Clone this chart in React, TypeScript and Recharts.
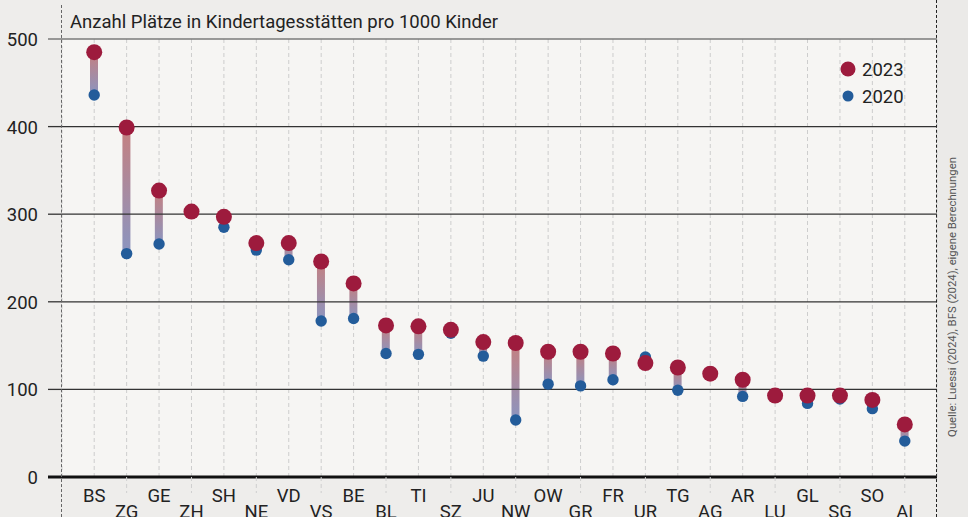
import {
  ComposedChart,
  Bar,
  Line,
  XAxis,
  YAxis,
  CartesianGrid,
  ReferenceLine,
} from "recharts";

const cantons = [
  "BS", "ZG", "GE", "ZH", "SH", "NE", "VD", "VS", "BE", "BL", "TI", "SZ", "JU",
  "NW", "OW", "GR", "FR", "UR", "TG", "AG", "AR", "LU", "GL", "SG", "SO", "AI",
];
const places2023 = [
  485, 399, 327, 303, 297, 267, 267, 246, 221, 173, 172, 168, 154,
  153, 143, 143, 141, 130, 125, 118, 111, 93, 93, 93, 88, 60,
];
const places2020 = [
  436, 255, 266, 302, 285, 259, 248, 178, 181, 141, 140, 164, 138,
  65, 106, 104, 111, 137, 99, 117, 92, 92, 84, 89, 78, 41,
];
const yTicks = [0, 100, 200, 300, 400, 500];

const data = cantons.map((name, i) => ({
  name,
  y2023: places2023[i],
  y2020: places2020[i],
}));

const FONT = "Roboto, 'DejaVu Sans', sans-serif";
const RED = "#9d1b3d";
const BLUE = "#235c9a";
const TEXT = "#222";
const FS = 18.5;

const gridColor = (v: number) => (v === 0 ? "#111" : v === 500 ? "#7a7a7a" : "#333");

const YTick = (props: any) => {
  const { y, payload } = props;
  const v = payload.value;
  return (
    <g>
      <line
        x1={48}
        x2={62}
        y1={y}
        y2={y}
        stroke={gridColor(v)}
        strokeWidth={v === 0 ? 3 : v === 500 ? 1.5 : 1.3}
      />
      <text x={38} y={y + 7} textAnchor="end" fontFamily={FONT} fontSize={FS} fill={TEXT}>
        {v}
      </text>
    </g>
  );
};

const XTick = (props: any) => {
  const { x, y, payload, index } = props;
  const odd = index % 2 === 1;
  return (
    <g>
      {odd && (
        <line x1={x} x2={x} y1={y - 8} y2={y + 8} stroke="#cfcfcf" strokeDasharray="4 3" />
      )}
      <text
        x={x}
        y={y + 17 + (odd ? 16 : 0)}
        textAnchor="middle"
        fontFamily={FONT}
        fontSize={FS}
        fill={TEXT}
      >
        {payload.value}
      </text>
    </g>
  );
};

export default function App() {
  return (
    <div
      style={{
        position: "absolute",
        left: 0,
        top: 0,
        width: 968,
        height: 517,
        background: "#eeedeb",
        overflow: "hidden",
      }}
    >
      <div
        style={{
          position: "absolute",
          left: 937,
          top: 0,
          width: 31,
          height: 517,
          background: "#ebeae8",
        }}
      />
      <div style={{ position: "absolute", left: 0, top: 0 }}>
        <ComposedChart
          width={968}
          height={517}
          data={data}
          margin={{ top: 39, right: 31, bottom: 0, left: 0 }}
        >
          <defs>
            <linearGradient id="conn" x1="0" y1="0" x2="0" y2="1">
              <stop offset="0%" stopColor="#c58080" />
              <stop offset="100%" stopColor="#8b95c0" />
            </linearGradient>
          </defs>
          <CartesianGrid
            horizontal={false}
            vertical
            stroke="#cdcdcd"
            strokeDasharray="4 3"
            fill="#f6f5f3"
          />
          {yTicks
            .filter((v) => v > 0)
            .map((v) => (
              <ReferenceLine
                key={v}
                y={v}
                stroke={gridColor(v)}
                strokeWidth={v === 500 ? 1.5 : 1.3}
              />
            ))}
          <XAxis
            dataKey="name"
            type="category"
            interval={0}
            height={40}
            padding={{ left: 16, right: 16 }}
            axisLine={{ stroke: "#111", strokeWidth: 3 }}
            tickLine={false}
            tick={<XTick />}
          />
          <YAxis
            type="number"
            domain={[0, 500]}
            ticks={yTicks}
            width={62}
            axisLine={false}
            tickLine={false}
            tick={<YTick />}
          />
          <Bar
            dataKey={(d: any) => [Math.min(d.y2020, d.y2023), Math.max(d.y2020, d.y2023)]}
            barSize={8}
            fill="url(#conn)"
            isAnimationActive={false}
          />
          <Line
            dataKey="y2020"
            stroke="none"
            dot={{ r: 5.7, fill: BLUE, stroke: "none" }}
            activeDot={false}
            isAnimationActive={false}
          />
          <Line
            dataKey="y2023"
            stroke="none"
            dot={{ r: 8, fill: RED, stroke: "none" }}
            activeDot={false}
            isAnimationActive={false}
          />
        </ComposedChart>
      </div>
      <div
        style={{
          position: "absolute",
          left: 61,
          top: 5,
          height: 512,
          borderLeft: "1.5px dashed #666",
        }}
      />
      <div
        style={{
          position: "absolute",
          left: 936,
          top: 0,
          height: 517,
          borderLeft: "1.5px dashed #222",
        }}
      />
      <svg
        width={968}
        height={517}
        style={{ position: "absolute", left: 0, top: 0, pointerEvents: "none" }}
      >
        <text x={70} y={28} fontFamily={FONT} fontSize={FS} fill={TEXT}>
          Anzahl Plätze in Kindertagesstätten pro 1000 Kinder
        </text>
        <circle cx={848} cy={69} r={7.5} fill={RED} />
        <text x={862} y={76} fontFamily={FONT} fontSize={FS} fill={TEXT}>2023</text>
        <circle cx={848} cy={96} r={5.5} fill={BLUE} />
        <text x={862} y={103} fontFamily={FONT} fontSize={FS} fill={TEXT}>2020</text>
        <text
          x={0}
          y={0}
          transform="translate(956 297) rotate(-90)"
          textAnchor="middle"
          fontFamily={FONT}
          fontSize={11.3}
          fill="#555"
        >
          Quelle: Luessi (2024), BFS (2024), eigene Berechnungen
        </text>
      </svg>
    </div>
  );
}
